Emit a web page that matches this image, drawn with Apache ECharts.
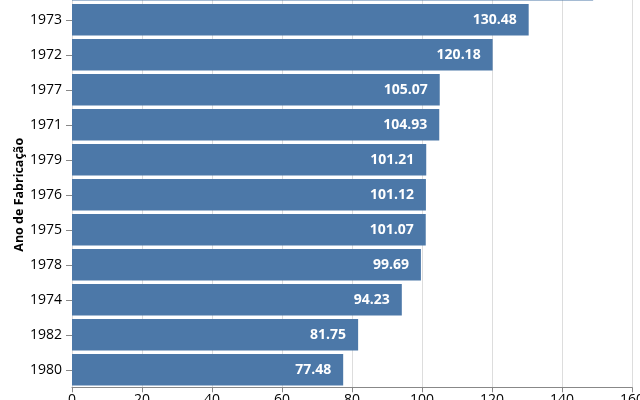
<!DOCTYPE html>
<html>
<head>
<meta charset="utf-8">
<script src="https://cdn.jsdelivr.net/npm/echarts@6/dist/echarts.min.js"></script>
<style>
  html, body { margin: 0; padding: 0; background: #fff; }
  #chart { width: 640px; height: 400px; }
</style>
</head>
<body>
<div id="chart"></div>
<script>
// Categories listed bottom-to-top (ECharts category y axis starts at the bottom)
const years = ['1980', '1982', '1974', '1978', '1975', '1976', '1979', '1971', '1977', '1972', '1973', '1981'];
const values = [77.48, 81.75, 94.23, 99.69, 101.07, 101.12, 101.21, 104.93, 105.07, 120.18, 130.48, 148.9];
const xTicks = { min: 0, max: 160, interval: 20 };
const axisTitle = 'Ano de Fabricação';

const chart = echarts.init(document.getElementById('chart'), null, { renderer: 'canvas' });
const font = 'Open Sans';
chart.setOption({
  animation: false,
  textStyle: { fontFamily: font },
  grid: { left: 72, right: 8, top: -32.7, bottom: 12.7, containLabel: false, outerBoundsMode: 'none' },
  xAxis: {
    type: 'value',
    min: xTicks.min,
    max: xTicks.max,
    interval: xTicks.interval,
    axisLine: { show: true, lineStyle: { color: '#888', width: 1 } },
    axisTick: { show: true, length: 5, lineStyle: { color: '#888' } },
    axisLabel: { color: '#000', fontSize: 14, fontFamily: font, margin: 6 },
    splitLine: { show: true, lineStyle: { color: '#ddd', width: 1 } }
  },
  yAxis: {
    type: 'category',
    data: years,
    name: axisTitle,
    nameLocation: 'middle',
    nameRotate: 90,
    nameGap: 46,
    nameMoveOverlap: false,
    nameTextStyle: { fontSize: 12.5, fontWeight: 'bold', color: '#000', fontFamily: font, padding: [0, 35, 0, 0] },
    axisLine: { show: false },
    axisTick: { show: true, length: 6, alignWithLabel: true, lineStyle: { color: '#888' } },
    axisLabel: { color: '#000', fontSize: 14, fontFamily: font, margin: 10 }
  },
  series: [{
    type: 'bar',
    data: values,
    barCategoryGap: '10%',
    itemStyle: { color: '#4c78a8' },
    label: {
      show: true,
      position: 'insideRight',
      distance: 12,
      color: '#fff',
      fontWeight: 'bold',
      fontSize: 14,
      fontFamily: font,
      formatter: p => p.value.toFixed(2)
    }
  }]
});
</script>
</body>
</html>
